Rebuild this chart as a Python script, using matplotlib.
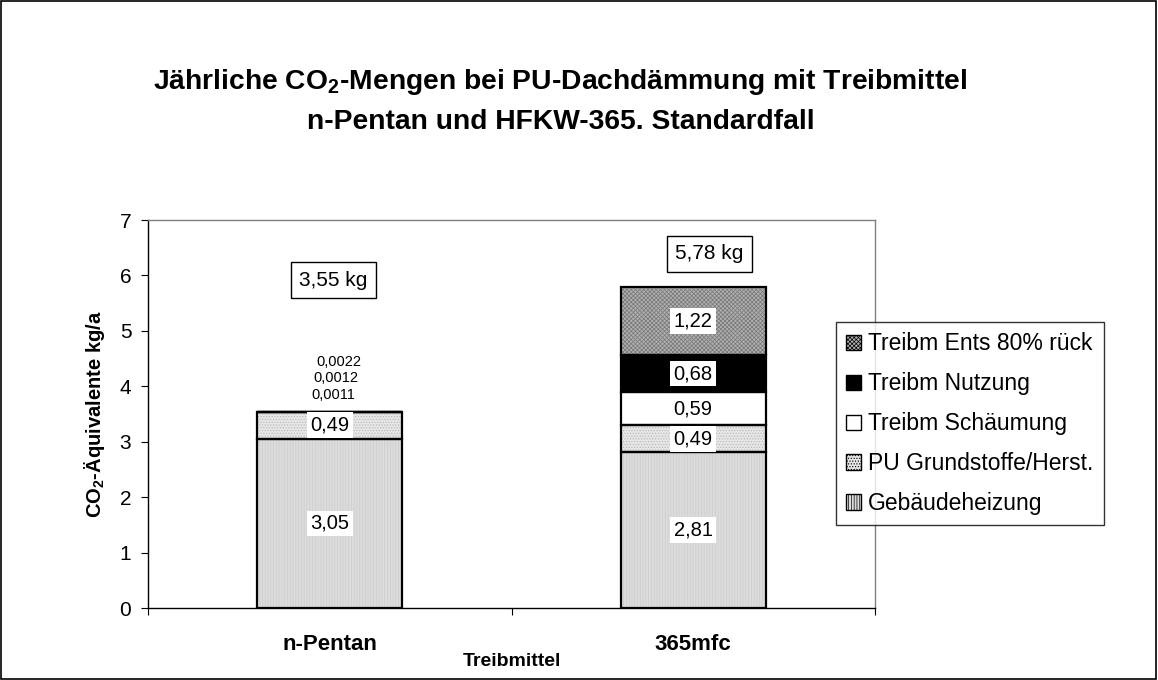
import numpy as np
import matplotlib
matplotlib.use("Agg")
import matplotlib.pyplot as plt
from matplotlib.patches import Rectangle

plt.rcParams['font.family'] = ['Liberation Sans', 'DejaVu Sans']
plt.rcParams['mathtext.fontset'] = 'custom'
plt.rcParams['mathtext.rm'] = 'Liberation Sans'
plt.rcParams['mathtext.bf'] = 'Liberation Sans:bold'
plt.rcParams['hatch.linewidth'] = 0.5

# ========= Data =========
categories = ["n-Pentan", "365mfc"]
series_names = ["Gebäudeheizung", "PU Grundstoffe/Herst.", "Treibm Schäumung",
                "Treibm Nutzung", "Treibm Ents 80% rück"]
heizung = [3.05, 2.81]
pu_herst = [0.49, 0.49]
schaeumung = [0.0011, 0.59]
nutzung = [0.0012, 0.68]
entsorgung = [0.0022, 1.22]
total_labels = ["3,55 kg", "5,78 kg"]
small_labels = ["0,0011", "0,0012", "0,0022"]

series = [heizung, pu_herst, schaeumung, nutzung, entsorgung]
face = ['#dcdcdc', '#e6e6e6', 'white', 'black', '#b0b0b0']
hatches = ['||||||', '......', None, None, 'xxxxxxxx']
hatch_col = ['#cccccc', '#b5b5b5', 'black', 'black', '#767676']

fig = plt.figure(figsize=(11.58, 6.8), dpi=100)
ax = fig.add_axes([148 / 1158, 72 / 680, 727 / 1158, 388 / 680])

x = np.arange(len(categories))
bottom = np.zeros(len(categories))
handles = []
for vals, name, fc, h, hc in zip(series, series_names, face, hatches, hatch_col):
    bars = ax.bar(x, vals, 0.4, bottom=bottom, color=fc, hatch=h,
                  edgecolor=hc, linewidth=0, label=name, zorder=2)
    # black outline for every segment
    ax.bar(x, vals, 0.4, bottom=bottom, fill=False, edgecolor='black',
           linewidth=1.6, zorder=3)
    handles.append(bars)
    for i, v in enumerate(vals):
        if v > 0.1:
            ax.text(x[i], bottom[i] + v / 2, f"{v:.2f}".replace('.', ','),
                    ha='center', va='center', fontsize=14.5, zorder=5,
                    bbox=dict(facecolor='white', edgecolor='none', pad=2.5))
    bottom += np.array(vals)

# tiny n-Pentan values written above the bar
for k, s in enumerate(small_labels):
    ax.text(x[0] + 0.01 + 0.008 * k, bottom[0] + 0.3 + 0.3 * k, s,
            ha='center', va='center', fontsize=10.5, zorder=5)

# total boxes
ax.text(x[0] + 0.01, bottom[0] + 2.37, total_labels[0], ha='center', va='center',
        fontsize=15, zorder=5,
        bbox=dict(facecolor='white', edgecolor='black', linewidth=1, pad=6))
ax.text(x[1] + 0.045, bottom[1] + 0.6, total_labels[1], ha='center', va='center',
        fontsize=15, zorder=5,
        bbox=dict(facecolor='white', edgecolor='black', linewidth=1, pad=6))

ax.set_xlim(-0.5, 1.5)
ax.set_ylim(0, 7)
ax.set_yticks(range(0, 8))
ax.tick_params(axis='y', labelsize=15, direction='out', length=5, pad=7)
ax.set_xticks([-0.5, 0.5, 1.5])
ax.set_xticklabels([])
ax.tick_params(axis='x', direction='out', length=5)
ax.set_xticks(x, minor=True)
ax.set_xticklabels(categories, minor=True, fontsize=16, fontweight='bold')
ax.tick_params(axis='x', which='minor', length=0, pad=19)
ax.set_xlabel("Treibmittel", fontsize=14, fontweight='bold', va='center')
ax.xaxis.set_label_coords(0.5, -0.137)
ax.set_ylabel(r"CO$_\mathbf{2}$-Äquivalente kg/a", fontsize=14.5, fontweight='bold',
              va='center')
ax.yaxis.set_label_coords(-0.073, 0.5)
for name, sp in ax.spines.items():
    sp.set_color('black' if name in ('left', 'bottom') else '#808080')
    sp.set_linewidth(1)

fig.text(0.484, 0.879, r"Jährliche CO$_\mathbf{2}$-Mengen bei PU-Dachdämmung mit Treibmittel",
         ha='center', va='center', fontsize=20.3, fontweight='bold')
fig.text(0.484, 0.82, "n-Pentan und HFKW-365. Standardfall",
         ha='center', va='center', fontsize=20.3, fontweight='bold')

leg = fig.legend(handles[::-1], series_names[::-1], loc='upper left',
                 bbox_to_anchor=(836 / 1158, 1 - 322 / 680), fontsize=16.5,
                 frameon=True, fancybox=False, edgecolor='black',
                 handlelength=0.65, handleheight=0.65, handletextpad=0.3,
                 labelspacing=0.74, borderpad=0.45, borderaxespad=0)
leg.get_frame().set_linewidth(1)
for p in leg.get_patches():
    p.set_edgecolor('black')
    p.set_linewidth(1)

fig.patches.append(Rectangle((0.001, 0.001), 0.997, 0.997, transform=fig.transFigure,
                             fill=False, edgecolor='black', linewidth=1.2))

fig.savefig("out.png", dpi=100)
